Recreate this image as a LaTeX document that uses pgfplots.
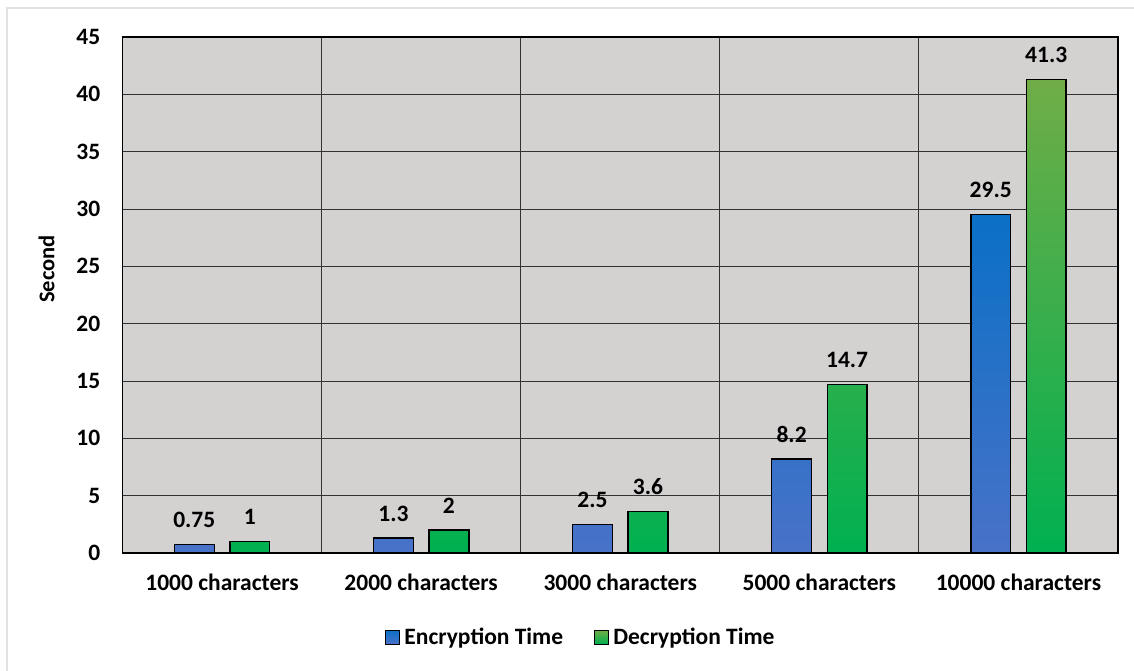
\documentclass[border=0pt]{standalone}
\usepackage{pgfplots}
\pgfplotsset{compat=1.18}
\usepackage{fontspec}
\setmainfont{Carlito}
\definecolor{bggray}{RGB}{212,209,209}
\definecolor{bluetop}{RGB}{10,112,198}
\definecolor{bluebot}{RGB}{72,114,200}
\definecolor{greentop}{RGB}{112,173,71}
\definecolor{greenbot}{RGB}{0,176,80}
\definecolor{framegray}{RGB}{226,226,226}
\definecolor{gridc}{RGB}{50,50,50}
\begin{document}
\begin{tikzpicture}[x=1pt,y=1pt]
\path[use as bounding box] (0,0) rectangle (1134,-671);
\draw[framegray, line width=2pt] (7,-671) -- (7,-8) -- (1134,-8);
\begin{axis}[
  at={(122.5pt,-553pt)}, anchor=south west,
  scale only axis, width=995.5pt, height=516pt,
  xmin=-0.5, xmax=4.5, ymin=0, ymax=45,
  ytick={0,5,...,45},
  xtick={0,1,2,3,4},
  xticklabels={1000 characters,2000 characters,3000 characters,5000 characters,10000 characters},
  minor xtick={0.5,1.5,2.5,3.5},
  xminorgrids=true, ymajorgrids=true,
  major tick length=0pt, minor tick length=0pt,
  grid style={gridc, line width=1pt},
  minor grid style={gridc, line width=1pt},
  axis line style={black, line width=1.6pt},
  axis background/.style={fill=bggray},
  /pgf/number format/assume math mode=true,
  tick label style={font=\fontsize{23.5}{27}\selectfont\bfseries},
  xticklabel style={inner sep=0pt, yshift=-21pt, anchor=north},
  yticklabel style={inner sep=0pt, xshift=-22pt, anchor=east},
  ylabel={Second},
  ylabel style={font=\fontsize{22.5}{26}\selectfont\bfseries, at={(axis description cs:-0.0763,0.55)}, anchor=center},
  legend style={at={(axis description cs:0.460,-0.163)}, anchor=center, legend columns=2, draw=none, fill=none,
     font=\fontsize{23.5}{27}\selectfont\bfseries,
     nodes={inner sep=1pt},
     /tikz/every odd column/.append style={column sep=3pt},
     /tikz/every even column/.append style={column sep=30pt}},
  point meta=explicit symbolic,
  nodes near coords,
  nodes near coords style={font=\fontsize{23.5}{27}\selectfont\bfseries, anchor=south, inner sep=0pt, yshift=16pt, black},
]
\addplot[ybar, bar width=39.8pt, bar shift=-27.75pt, draw=black, line width=1.4pt,
  top color=bluetop, bottom color=bluebot,
  every node near coord/.append style={xshift=-27.75pt},
  legend image code/.code={\draw[draw=black, line width=1.2pt, fill=bluebot] (0pt,-7pt) rectangle (14pt,7pt);}]
  coordinates {(0,0.75) [0.75] (1,1.3) [1.3] (2,2.5) [2.5] (3,8.2) [8.2] (4,29.5) [29.5]};
\addlegendentry{Encryption Time}
\addplot[ybar, bar width=39.8pt, bar shift=27.75pt, draw=black, line width=1.4pt,
  top color=greentop, bottom color=greenbot,
  every node near coord/.append style={xshift=27.75pt},
  legend image code/.code={\draw[draw=black, line width=1.2pt, fill=greenbot] (0pt,-7pt) rectangle (14pt,7pt);}]
  coordinates {(0,1) [1] (1,2) [2] (2,3.6) [3.6] (3,14.7) [14.7] (4,41.3) [41.3]};
\addlegendentry{Decryption Time}
\end{axis}
\end{tikzpicture}
\end{document}
